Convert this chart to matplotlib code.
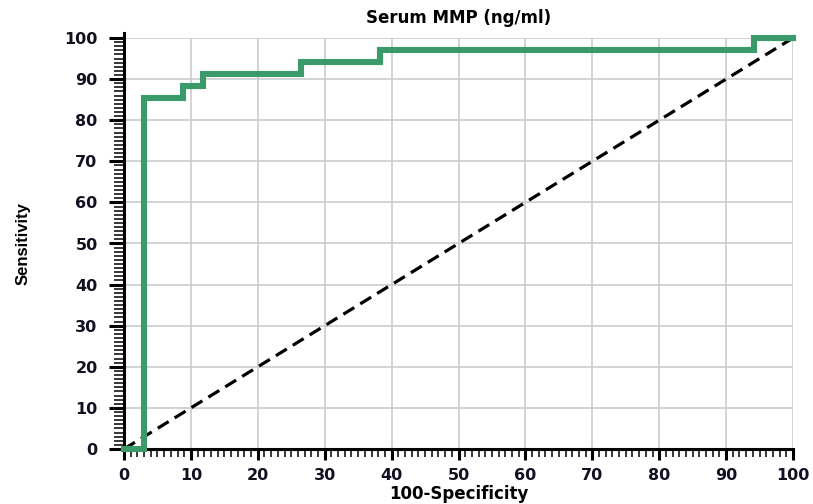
import numpy as np
import matplotlib.pyplot as plt
from matplotlib.ticker import MultipleLocator

# ROC curve points (100-Specificity, Sensitivity)
fpr = [0, 2.94, 2.94, 8.82, 8.82, 11.76, 11.76, 26.47, 26.47, 38.24, 38.24, 94.12, 94.12, 100]
tpr = [0, 0, 85.29, 85.29, 88.24, 88.24, 91.18, 91.18, 94.12, 94.12, 97.06, 97.06, 100, 100]

ref_x = [0, 100]
ref_y = [0, 100]

plt.rcParams['font.family'] = ['DejaVu Sans']

fig = plt.figure(figsize=(8.13, 5.04), dpi=100)
# axes: x 124..793 px, y 38..449 px
ax = fig.add_axes([124 / 813, 55 / 504, 669 / 813, 411 / 504])

ax.plot(ref_x, ref_y, '--', color='black', lw=2.3, dashes=(4, 2.2), zorder=3)
ax.plot(fpr, tpr, color='#3a9a6a', lw=4.4, solid_joinstyle='miter', zorder=4, clip_on=False)

ax.set_xlim(0, 100)
ax.set_ylim(0, 100)
ax.spines['left'].set_bounds(0, 101.3)

ax.xaxis.set_major_locator(MultipleLocator(10))
ax.xaxis.set_minor_locator(MultipleLocator(1))
ax.yaxis.set_major_locator(MultipleLocator(10))
ax.yaxis.set_minor_locator(MultipleLocator(1))

ax.grid(True, which='major', color='#cccccc', lw=1.2)
ax.set_axisbelow(True)

for s in ['top', 'right']:
    ax.spines[s].set_visible(False)
for s in ['left', 'bottom']:
    ax.spines[s].set_linewidth(2.2)

ax.tick_params(axis='x', which='major', direction='out', length=8, width=2.2, pad=6)
ax.tick_params(axis='x', which='minor', direction='out', length=5.5, width=1.1)
ax.tick_params(axis='y', which='major', direction='out', length=11, width=2.2, pad=8)
ax.tick_params(axis='y', which='minor', direction='out', length=7, width=1.1)

for lab in ax.get_xticklabels() + ax.get_yticklabels():
    lab.set_fontweight('bold')
    lab.set_fontsize(11.5)
    lab.set_color('#111122')

ax.set_title('Serum MMP (ng/ml)', fontsize=12, fontweight='bold', pad=11)
ax.set_xlabel('100-Specificity', fontsize=12, fontweight='bold', labelpad=1)
ax.set_ylabel('Sensitivity', fontsize=12, fontweight='bold',
              family=['Liberation Sans Narrow', 'Liberation Sans'], labelpad=24)

plt.savefig('out.png', dpi=100)
